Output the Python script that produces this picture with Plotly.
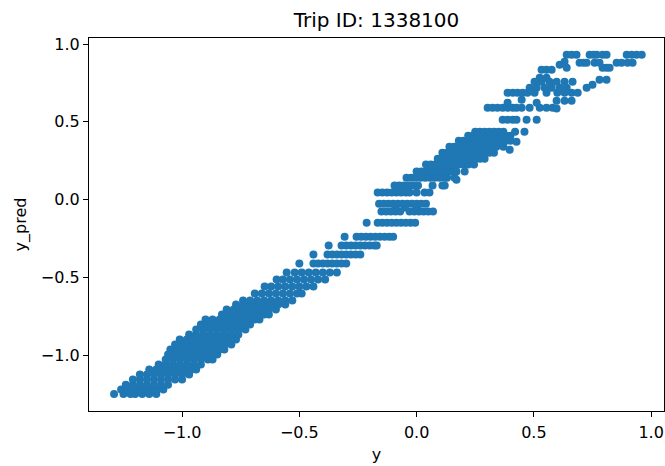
import plotly.graph_objects as go

# ---- data (y = true value, y_pred = prediction) ----
# Lower dense band: one y_pred level per row, with the y values on that row
lower_pred = [-1.25, -1.22, -1.19, -1.156, -1.124, -1.092, -1.06, -1.028, -0.996,
              -0.963, -0.931, -0.899, -0.867, -0.835, -0.803, -0.771, -0.739,
              -0.706, -0.674]
lower_y = [
    [-1.29, -1.25, -1.22, -1.20, -1.17, -1.14, -1.11],
    [-1.26, -1.23, -1.20, -1.17, -1.14, -1.11, -1.08],
    [-1.24, -1.21, -1.18, -1.15, -1.12, -1.09, -1.06],
    [-1.21, -1.18, -1.15, -1.12, -1.09, -1.06, -1.03, -1.00],
    [-1.18, -1.15, -1.12, -1.09, -1.06, -1.03, -1.00, -0.97],
    [-1.14, -1.11, -1.08, -1.05, -1.02, -0.99, -0.96, -0.94],
    [-1.10, -1.07, -1.04, -1.01, -0.98, -0.95, -0.92],
    [-1.07, -1.04, -1.01, -0.98, -0.95, -0.92, -0.89, -0.87],
    [-1.06, -1.03, -1.00, -0.97, -0.94, -0.91, -0.88, -0.85],
    [-1.05, -1.02, -0.99, -0.96, -0.93, -0.90, -0.87, -0.84, -0.82],
    [-1.03, -1.00, -0.97, -0.94, -0.91, -0.88, -0.85, -0.82, -0.79],
    [-1.01, -0.98, -0.95, -0.92, -0.89, -0.86, -0.83, -0.80, -0.77],
    [-0.97, -0.94, -0.91, -0.88, -0.85, -0.82, -0.79, -0.76],
    [-0.94, -0.91, -0.88, -0.85, -0.82, -0.79, -0.76, -0.73],
    [-0.92, -0.89, -0.86, -0.83, -0.80, -0.77, -0.74, -0.71],
    [-0.90, -0.87, -0.84, -0.81, -0.78, -0.75, -0.72, -0.69, -0.67],
    [-0.83, -0.80, -0.77, -0.74, -0.71, -0.68, -0.65, -0.63],
    [-0.81, -0.78, -0.75, -0.72, -0.69, -0.66, -0.63, -0.60],
    [-0.77, -0.74, -0.71, -0.68, -0.65, -0.62, -0.59, -0.56],
]

# Middle: stepped rows (a lone point, then a run of points)
mid_pred = [-0.649, -0.604, -0.559, -0.514, -0.469, -0.411, -0.353, -0.295, -0.238, -0.148]
mid_y = [
    [-0.74, -0.71, -0.68, -0.65, -0.62, -0.59, -0.56, -0.53],
    [-0.69, -0.66, -0.63, -0.60, -0.57, -0.54, -0.51, -0.49],
    [-0.648, -0.62, -0.59, -0.56, -0.53, -0.50, -0.47, -0.44],
    [-0.597, -0.57, -0.54, -0.51, -0.48, -0.45, -0.42, -0.39],
    [-0.554, -0.52, -0.49, -0.46, -0.43, -0.40, -0.37, -0.34],
    [-0.50, -0.44, -0.42, -0.40, -0.38, -0.36, -0.34, -0.32, -0.30],
    [-0.44, -0.38, -0.36, -0.34, -0.32, -0.30, -0.28, -0.26, -0.24],
    [-0.375, -0.32, -0.30, -0.28, -0.26, -0.24, -0.22, -0.20, -0.18, -0.17],
    [-0.307, -0.256, -0.236, -0.216, -0.196, -0.176, -0.156, -0.136, -0.116, -0.10],
    [-0.213, -0.166, -0.146, -0.126, -0.106, -0.086, -0.066, -0.046, -0.026, -0.006],
]

# Centre cluster around the origin
center_pred = [-0.077, -0.05, -0.026, 0.045, 0.09, 0.128, 0.141, 0.18]
center_y = [
    [-0.15, -0.13, -0.11, -0.09, -0.07, -0.03, -0.01, 0.01, 0.03, 0.05, 0.07],
    [-0.09, -0.05, 0.0],
    [-0.16, -0.14, -0.12, -0.10, -0.08, -0.06, -0.04, -0.02, 0.0, 0.02, 0.04],
    [-0.166, -0.146, -0.126, -0.106, -0.086, -0.066, -0.046, -0.03, 0.0, 0.034, 0.055],
    [-0.094, -0.074, -0.054, -0.034, -0.014, 0.006, 0.068, 0.11, 0.12],
    [0.17],
    [-0.043, -0.023, -0.003, 0.017, 0.037, 0.057, 0.077, 0.097, 0.117, 0.13, 0.162],
    [0.0, 0.02, 0.04, 0.06, 0.08, 0.10, 0.12, 0.14, 0.155, 0.17, 0.205],
]

# Upper dense band
upper_pred = [0.225, 0.263, 0.302, 0.34, 0.379, 0.411, 0.437]
upper_y = [
    [0.04, 0.06, 0.08, 0.10, 0.12, 0.14, 0.16, 0.18, 0.20, 0.22, 0.245],
    [0.09, 0.11, 0.13, 0.15, 0.17, 0.19, 0.21, 0.23, 0.25, 0.27, 0.29],
    [0.11, 0.13, 0.15, 0.17, 0.19, 0.21, 0.23, 0.25, 0.27, 0.29, 0.31, 0.33],
    [0.14, 0.16, 0.18, 0.20, 0.22, 0.24, 0.26, 0.28, 0.30, 0.32, 0.34, 0.37],
    [0.18, 0.20, 0.22, 0.24, 0.26, 0.28, 0.30, 0.32, 0.34, 0.36, 0.38, 0.40],
    [0.22, 0.24, 0.26, 0.28, 0.30, 0.32, 0.34, 0.36, 0.38, 0.40],
    [0.25, 0.27, 0.29, 0.31, 0.33, 0.35, 0.37, 0.42, 0.46],
]

# Sparse top-right region (individual points)
top_y = [0.367, 0.397, 0.426,
         0.367, 0.388, 0.41, 0.426, 0.469, 0.512,
         0.303, 0.324, 0.345, 0.367, 0.388, 0.41, 0.426, 0.448, 0.482, 0.525, 0.554, 0.58, 0.597,
         0.388, 0.448, 0.512,
         0.388, 0.41, 0.43, 0.452, 0.473, 0.503, 0.554, 0.60, 0.631, 0.661, 0.687,
         0.597, 0.631, 0.661,
         0.482, 0.512, 0.546, 0.576, 0.61, 0.64, 0.725,
         0.503, 0.533, 0.567, 0.597, 0.631, 0.665, 0.75,
         0.525, 0.554, 0.78, 0.81,
         0.533, 0.554, 0.576, 0.61, 0.631, 0.64,
         0.695, 0.712, 0.725, 0.759, 0.78,
         0.793, 0.81, 0.823,
         0.853, 0.874, 0.90, 0.921,
         0.64, 0.661, 0.682, 0.738, 0.755, 0.768, 0.793, 0.81, 0.896, 0.917, 0.938, 0.96]
top_pred = [0.366, 0.321, 0.372,
            0.514, 0.514, 0.514, 0.514, 0.514, 0.514,
            0.591, 0.591, 0.591, 0.591, 0.591, 0.591, 0.591, 0.591, 0.591, 0.591, 0.591, 0.591, 0.585,
            0.623, 0.642, 0.623,
            0.687, 0.687, 0.687, 0.687, 0.687, 0.687, 0.687, 0.687, 0.687, 0.687, 0.687,
            0.636, 0.636, 0.636,
            0.719, 0.719, 0.719, 0.719, 0.719, 0.719, 0.719,
            0.758, 0.758, 0.758, 0.758, 0.758, 0.758, 0.739,
            0.784, 0.784, 0.771, 0.771,
            0.835, 0.835, 0.835, 0.867, 0.886, 0.848,
            0.88, 0.88, 0.88, 0.88, 0.88,
            0.848, 0.848, 0.848,
            0.88, 0.88, 0.88, 0.88,
            0.931, 0.931, 0.931, 0.931, 0.931, 0.931, 0.931, 0.931, 0.931, 0.931, 0.931, 0.931]

tick_vals = [-1.0, -0.5, 0.0, 0.5, 1.0]
tick_text = ["−1.0", "−0.5", "0.0", "0.5", "1.0"]
title_text = "Trip ID: 1338100"

# ---- assemble ----
y_all, pred_all = [], []
for levels, rows in [(lower_pred, lower_y), (mid_pred, mid_y),
                     (center_pred, center_y), (upper_pred, upper_y)]:
    for p, row in zip(levels, rows):
        y_all.extend(row)
        pred_all.extend([p] * len(row))
y_all.extend(top_y)
pred_all.extend(top_pred)

fig = go.Figure(go.Scatter(
    x=y_all, y=pred_all, mode="markers",
    marker=dict(color="#1f77b4", size=8, line=dict(width=0)),
))

font_family = "DejaVu Sans"
axis_common = dict(
    showgrid=False, zeroline=False, showline=True, linecolor="black", linewidth=1.2,
    mirror=True, ticks="outside", ticklen=5, tickwidth=1.2, tickcolor="black",
    tickvals=tick_vals, ticktext=tick_text,
    tickfont=dict(family=font_family, size=16, color="black"),
)

W, H = 665, 466
fig.update_layout(
    width=W, height=H,
    margin=dict(l=89, r=1, t=38, b=55),
    paper_bgcolor="white", plot_bgcolor="white",
    showlegend=False,
    title=dict(text=title_text, x=0.5, xref="paper", y=1 - 20 / H, yref="container",
               yanchor="middle", xanchor="center",
               font=dict(family=font_family, size=20, color="black")),
    xaxis=dict(range=[-1.397, 1.055], ticklabelstandoff=2, **axis_common,
               title=dict(text="y", standoff=7,
                          font=dict(family=font_family, size=16, color="black"))),
    yaxis=dict(range=[-1.359, 1.039], **axis_common,
               title=dict(text="y_pred", standoff=10,
                          font=dict(family=font_family, size=16, color="black"))),
)

# remove the default page margin so the 665x466 figure fills the window exactly
fig.write_html(
    "out.html",
    config={"displayModeBar": False},
    post_script="document.body.style.margin='0';document.body.style.overflow='hidden';",
)
